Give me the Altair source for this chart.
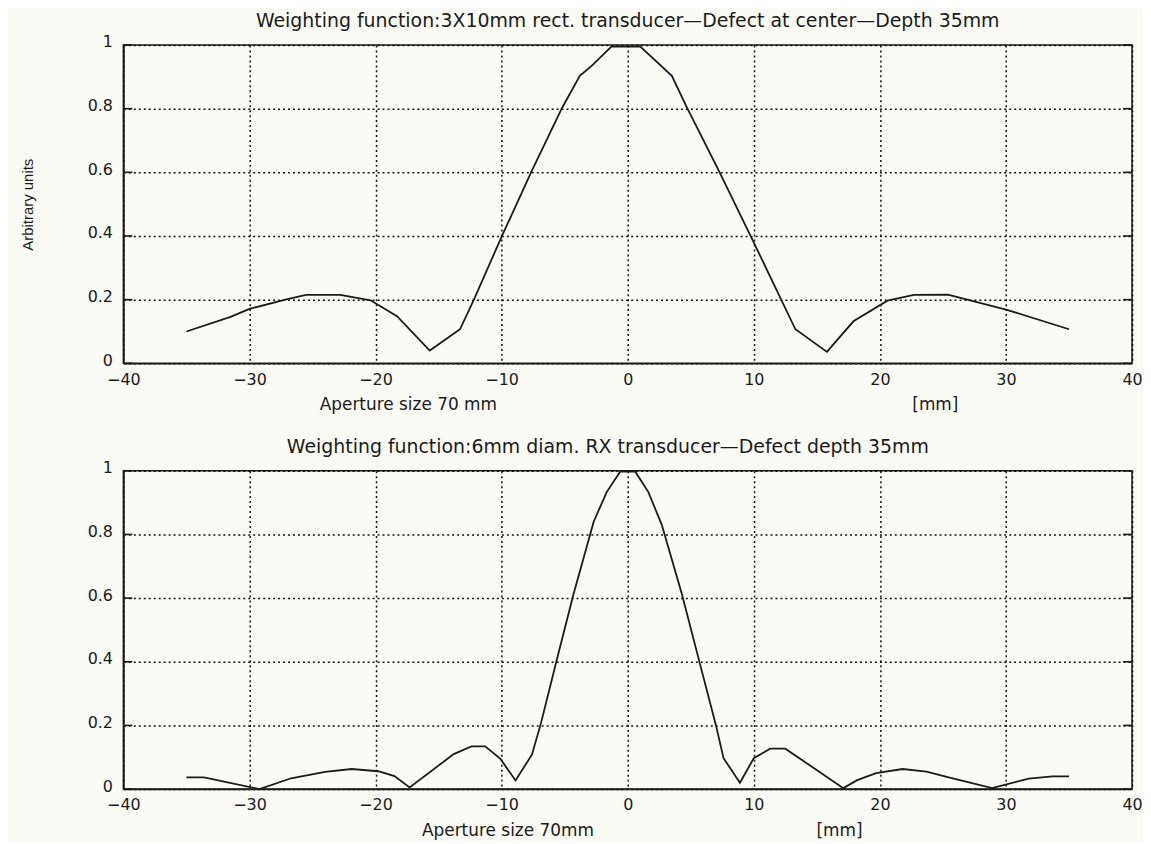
import altair as alt
import pandas as pd

# ---------------- data ----------------
# Top panel: 3X10mm rectangular transducer
top_x = [-35, -31.5, -30, -27, -25.5, -22.8, -20.4, -18.3, -15.7, -13.3, -12.2, -10,
         -7.6, -5.2, -3.8, -2.8, -1.3, 1.0, 3.5, 4.7, 7.2, 9.8, 13.3, 15.8, 17.9,
         20.6, 22.7, 25.4, 30, 35]
top_y = [0.10, 0.146, 0.171, 0.202, 0.215, 0.215, 0.198, 0.148, 0.04, 0.107, 0.2, 0.398,
         0.605, 0.803, 0.903, 0.937, 0.995, 0.995, 0.903, 0.803, 0.607, 0.396, 0.107, 0.036, 0.132,
         0.197, 0.215, 0.216, 0.169, 0.107]

# Bottom panel: 6mm diam. RX transducer
bot_x = [-35, -33.6, -29.2, -26.7, -24, -21.9, -19.8, -18.5, -17.3, -13.8, -12.4, -11.3,
         -10.1, -8.9, -7.6, -6.9, -5.6, -4.3, -2.7, -1.67, -0.6, 0.6, 1.64, 2.7, 4.3, 5.6,
         7.0, 7.6, 8.9, 10.0, 11.3, 12.5, 17.1, 18.2, 19.7, 21.8, 23.7, 25.3, 28.9, 31.8,
         33.7, 35]
bot_y = [0.037, 0.037, 0.0, 0.034, 0.054, 0.063, 0.056, 0.041, 0.005, 0.11, 0.134, 0.134,
         0.095, 0.027, 0.108, 0.204, 0.41, 0.612, 0.84, 0.933, 0.997, 0.997, 0.933, 0.83, 0.612, 0.413,
         0.2, 0.097, 0.02, 0.097, 0.127, 0.127, 0.003, 0.028, 0.05, 0.063, 0.055, 0.038, 0.003, 0.033,
         0.040, 0.040]

x_ticks = [-40, -30, -20, -10, 0, 10, 20, 30, 40]
y_ticks = [0, 0.2, 0.4, 0.6, 0.8, 1]

top_title = "Weighting function:3X10mm rect. transducer\u2014Defect at center\u2014Depth 35mm"
bot_title = "Weighting function:6mm diam. RX transducer\u2014Defect depth 35mm"
y_label = "Arbitrary units"

top_notes = ["Aperture size 70 mm", "[mm]"]
top_notes_x = [-17.4, 24.4]
bot_notes = ["Aperture size 70mm", "[mm]"]
bot_notes_x = [-9.5, 16.8]

W, H = 1014, 320
INK = "#1a1a1a"
FONT = "DejaVu Sans"


def panel(xs, ys, title, dx, notes, notes_x, ytitle):
    df = pd.DataFrame({"x": xs, "y": ys})
    xscale = alt.Scale(domain=[-40, 40], nice=False, zero=False)
    yscale = alt.Scale(domain=[0, 1], nice=False)
    if ytitle:
        yaxis = alt.Axis(values=y_ticks, format="~g", title=ytitle, labelFlush=False,
                         titleFont="Liberation Sans Narrow, Liberation Sans", titleFontSize=15,
                         titleFontWeight="normal", titleColor=INK, titlePadding=52)
    else:
        yaxis = alt.Axis(values=y_ticks, format="~g", title=None, labelFlush=False)
    xaxis = alt.Axis(values=x_ticks, format="d", title=None, labelFlush=False)
    line = alt.Chart(df).mark_line(color=INK, strokeWidth=1.8).encode(
        x=alt.X("x:Q", scale=xscale, axis=xaxis),
        y=alt.Y("y:Q", scale=yscale, axis=yaxis),
    )
    tdf = pd.DataFrame({"y": y_ticks})
    ltick = alt.Chart(tdf).mark_rule(color=INK, strokeWidth=1.6).encode(
        y=alt.Y("y:Q", scale=yscale, axis=yaxis), x=alt.value(0), x2=alt.value(9))
    rtick = alt.Chart(tdf).mark_rule(color=INK, strokeWidth=1.6).encode(
        y=alt.Y("y:Q", scale=yscale, axis=yaxis), x=alt.value(W - 9), x2=alt.value(W))
    ndf = pd.DataFrame({"x": notes_x, "t": notes})
    notes_layer = alt.Chart(ndf).mark_text(
        font=FONT, fontSize=17, color=INK, baseline="middle", align="center"
    ).encode(x=alt.X("x:Q", scale=xscale, axis=xaxis), y=alt.value(H + 42), text="t:N")
    return alt.layer(line, ltick, rtick, notes_layer).properties(
        width=W, height=H,
        title=alt.Title(title, font=FONT, fontSize=19, fontWeight="normal", color=INK,
                        offset=3, dx=dx, anchor="middle"),
    )


top = panel(top_x, top_y, top_title, 0, top_notes, top_notes_x, y_label)
bottom = panel(bot_x, bot_y, bot_title, -20, bot_notes, bot_notes_x, None)

chart = alt.vconcat(top, bottom, spacing=108, bounds="flush").configure(
    background="#fbfbf6",
    padding={"left": 11, "top": 1, "right": 0, "bottom": 0},
).configure_view(stroke=INK, strokeWidth=1.6).configure_axis(
    domainColor=INK, domainWidth=1.6, grid=True, gridColor="#111111",
    gridDash=[2, 3], gridWidth=1.5, ticks=False, labelColor=INK, labelFont=FONT,
).configure_axisX(labelPadding=8, labelFontSize=16).configure_axisY(
    labelPadding=11, labelFontSize=16, labelOffset=-3)

chart.save("out.html", embed_options={"renderer": "svg", "actions": False})
